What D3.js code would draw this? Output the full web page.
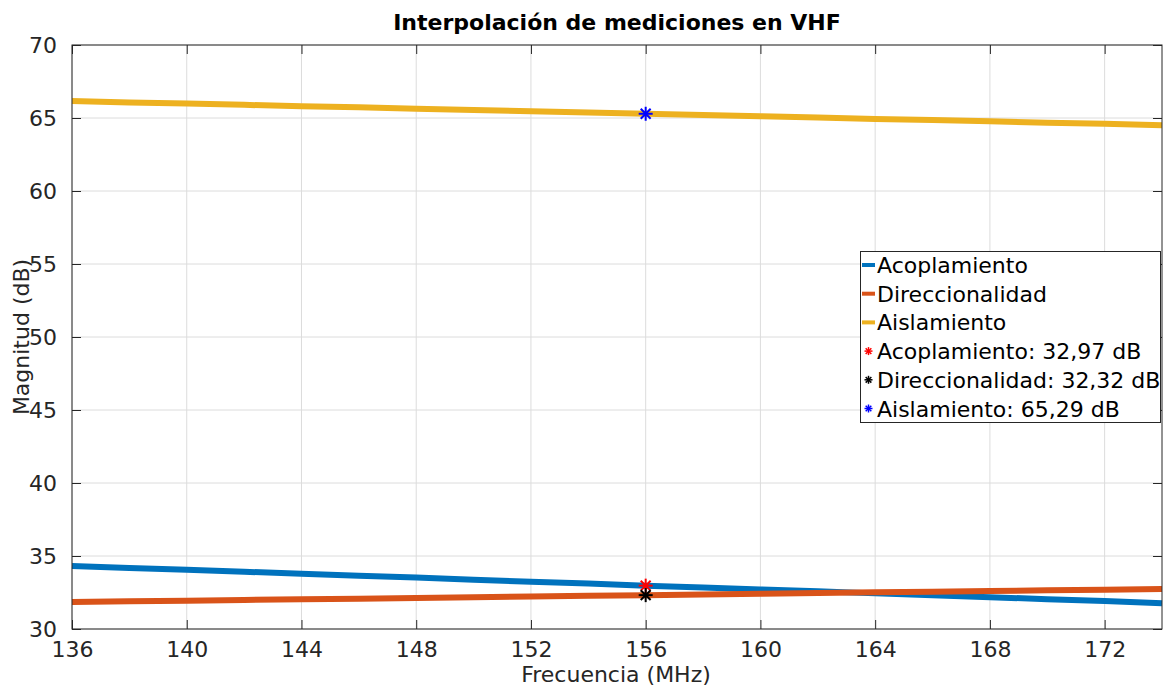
<!DOCTYPE html>
<html>
<head>
<meta charset="utf-8">
<script src="https://cdn.jsdelivr.net/npm/d3@7"></script>
<style>
  html, body { margin: 0; padding: 0; background: #fff; }
  svg { display: block; font-family: "DejaVu Sans", sans-serif; }
</style>
</head>
<body>
<svg id="chart" width="1167" height="686"></svg>
<script>
// Frequency samples (MHz)
const freqs = [136,138,140,142,144,146,148,150,152,154,156,158,160,162,164,166,168,170,172,174];

// Interpolated measurements (dB)
const acoplamiento = [34.31,34.18,34.05,33.92,33.78,33.65,33.52,33.38,33.24,33.11,32.97,32.84,32.71,32.58,32.44,32.31,32.18,32.04,31.91,31.77];
const direccionalidad = [31.85,31.90,31.94,31.99,32.04,32.08,32.13,32.18,32.23,32.27,32.32,32.37,32.41,32.46,32.51,32.55,32.60,32.65,32.69,32.74];
const aislamiento = [66.16,66.07,65.99,65.90,65.81,65.73,65.64,65.55,65.46,65.38,65.29,65.20,65.12,65.03,64.94,64.86,64.77,64.68,64.60,64.51];

// Values at the target frequency
const markFreq = 156;
const markValues = [32.97, 32.32, 65.29];

const xTicks = [136,140,144,148,152,156,160,164,168,172];
const yTicks = [30,35,40,45,50,55,60,65,70];

const seriesNames = ["Acoplamiento", "Direccionalidad", "Aislamiento"];
const seriesColors = ["#0072BD", "#D95319", "#EDB120"];
const markColors = ["#FF0000", "#000000", "#0000FF"];

const svg = d3.select("#chart");
const m = { left: 72, right: 1162, top: 45, bottom: 629 };

const x = d3.scaleLinear().domain([136, 174]).range([m.left, m.right]);
const y = d3.scaleLinear().domain([30, 70]).range([m.bottom, m.top]);

const axisColor = "#262626";
const fontSize = 22;

// Grid
const grid = svg.append("g");
grid.selectAll("line.gx").data(xTicks).join("line")
  .attr("x1", d => x(d)).attr("x2", d => x(d))
  .attr("y1", m.top).attr("y2", m.bottom)
  .attr("stroke", "#dcdcdc").attr("stroke-width", 1);
grid.selectAll("line.gy").data(yTicks).join("line")
  .attr("y1", d => y(d)).attr("y2", d => y(d))
  .attr("x1", m.left).attr("x2", m.right)
  .attr("stroke", "#dcdcdc").attr("stroke-width", 1);

// Data lines
const line = d3.line().x((d, i) => x(freqs[i])).y(d => y(d));
[acoplamiento, direccionalidad, aislamiento].forEach((s, k) => {
  svg.append("path").datum(s)
    .attr("d", line)
    .attr("fill", "none")
    .attr("stroke", seriesColors[k])
    .attr("stroke-width", 6);
});

// Asterisk markers
function asterisk(g, cx, cy, r, color, w) {
  const a = g.append("g").attr("transform", `translate(${cx},${cy})`);
  for (let i = 0; i < 4; i++) {
    const ang = i * Math.PI / 4;
    a.append("line")
      .attr("x1", -r * Math.cos(ang)).attr("y1", -r * Math.sin(ang))
      .attr("x2", r * Math.cos(ang)).attr("y2", r * Math.sin(ang))
      .attr("stroke", color).attr("stroke-width", w);
  }
}
markValues.forEach((v, k) => asterisk(svg, x(markFreq), y(v), 7, markColors[k], 2));

// Axes box with inward ticks
const xAxisB = d3.axisBottom(x).tickValues(xTicks).tickSize(-9).tickPadding(12).tickFormat(d3.format("d"));
const xAxisT = d3.axisTop(x).tickValues(xTicks).tickSize(-9).tickFormat("");
const yAxisL = d3.axisLeft(y).tickValues(yTicks).tickSize(-9).tickPadding(15).tickFormat(d3.format("d"));
const yAxisR = d3.axisRight(y).tickValues(yTicks).tickSize(-9).tickFormat("");

function styleAxis(g) {
  g.select(".domain").attr("stroke", axisColor).attr("stroke-width", 1);
  g.selectAll(".tick line").attr("stroke", axisColor).attr("stroke-width", 1);
  g.selectAll(".tick text").attr("fill", axisColor).attr("font-size", fontSize)
    .attr("font-family", "DejaVu Sans, sans-serif");
}
svg.append("g").attr("transform", `translate(0,${m.bottom})`).call(xAxisB).call(styleAxis);
svg.append("g").attr("transform", `translate(0,${m.top})`).call(xAxisT).call(styleAxis);
svg.append("g").attr("transform", `translate(${m.left},0)`).call(yAxisL).call(styleAxis);
svg.append("g").attr("transform", `translate(${m.right},0)`).call(yAxisR).call(styleAxis);
svg.selectAll(".domain").attr("d", null);
svg.append("rect")
  .attr("x", m.left).attr("y", m.top)
  .attr("width", m.right - m.left).attr("height", m.bottom - m.top)
  .attr("fill", "none").attr("stroke", axisColor).attr("stroke-width", 1);

// Title and axis labels
svg.append("text").attr("x", 617).attr("y", 30)
  .attr("text-anchor", "middle").attr("font-weight", "bold").attr("font-size", fontSize)
  .attr("fill", "#000").text("Interpolación de mediciones en VHF");
svg.append("text").attr("x", 616).attr("y", 682)
  .attr("text-anchor", "middle").attr("font-size", fontSize)
  .attr("fill", axisColor).text("Frecuencia (MHz)");
svg.append("text").attr("transform", "translate(29,337) rotate(-90)")
  .attr("text-anchor", "middle").attr("font-size", fontSize)
  .attr("fill", axisColor).text("Magnitud (dB)");

// Legend
const legendItems = [
  ...seriesNames.map((n, k) => ({ label: n, type: "line", color: seriesColors[k] })),
  { label: "Acoplamiento: " + d3.format(".2f")(markValues[0]).replace(".", ",") + " dB", type: "mark", color: markColors[0] },
  { label: "Direccionalidad: " + d3.format(".2f")(markValues[1]).replace(".", ",") + " dB", type: "mark", color: markColors[1] },
  { label: "Aislamiento: " + d3.format(".2f")(markValues[2]).replace(".", ",") + " dB", type: "mark", color: markColors[2] }
];
const lg = svg.append("g");
lg.append("rect").attr("x", 860.5).attr("y", 251.5).attr("width", 300).attr("height", 171)
  .attr("fill", "#fff").attr("stroke", "#262626").attr("stroke-width", 1);
legendItems.forEach((it, i) => {
  const cy = 265 + i * 28.7;
  if (it.type === "line") {
    lg.append("line").attr("x1", 862).attr("x2", 875).attr("y1", cy).attr("y2", cy)
      .attr("stroke", it.color).attr("stroke-width", 4);
  } else {
    asterisk(lg, 868.5, cy, 4, it.color, 1.5);
  }
  lg.append("text").attr("x", 877).attr("y", cy + 8)
    .attr("font-size", fontSize).attr("fill", "#000").text(it.label);
});
</script>
</body>
</html>
